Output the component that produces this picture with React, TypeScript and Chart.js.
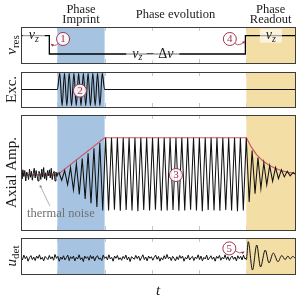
import React, { useEffect, useRef } from "react";
import { Chart, registerables } from "chart.js";
Chart.register(...registerables);

// ---------- data ----------
const T_MIN = -0.77;
const T_MAX = 5.03;
const IMPRINT = [0, 1];
const READOUT = [4, 5.03];
const TICKS = [0, 1, 2, 3, 4];
const PHASE_TITLES = ["Phase Imprint", "Phase evolution", "Phase Readout"];

// panel 1: resonator frequency (step)
const NU_T = [-0.77, -0.17, -0.17, 3.98, 3.98, 5.03];
const NU_Y = [0.76, 0.76, 0.25, 0.25, 0.76, 0.76];

// panel 2: excitation
const EXC_T0 = 0;
const EXC_DT = 0.05;
const EXC_Y = [0, 1, -1, 1, -1, 1, -1, 1, -1, 1, -1, 1, -1, 1, -1, 1, -1, 1, -1, 1, 0];

// panel 3: axial amplitude
const AXIAL_NOISE_T0 = -0.77;
const AXIAL_NOISE_DT = 0.02;
const AXIAL_NOISE = [
  0.06, -0.10, 0.14, -0.04, 0.12, -0.16, 0.08, 0.02, -0.12, 0.16,
  -0.06, 0.10, -0.14, 0.04, 0.18, -0.08, 0.12, -0.02, -0.16, 0.10,
  0.04, -0.12, 0.16, -0.06, 0.20, -0.10, 0.06, -0.14, 0.12, -0.02,
  0.14, -0.08, 0.18, -0.12, 0.04, 0.10, -0.16, 0.08, -0.04, 0.06,
];
const AXIAL_T0 = 0.03;
const AXIAL_DT = 0.062;
const AXIAL = [
  0.08, -0.14, 0.12, -0.26, 0.20, -0.40, 0.30, -0.52, 0.44, -0.64, 0.58, -0.76, 0.72, -0.86, 0.86, -0.95,
  1.0,
  -0.95, 1.0, -0.93, 1.0, -0.96, 1.0, -0.94, 1.0, -0.95, 1.0, -0.97, 1.0, -0.94, 1.0, -0.95, 1.0,
  -0.93, 1.0, -0.96, 1.0, -0.95, 1.0, -0.94, 1.0, -0.96, 1.0, -0.95, 1.0, -0.93, 1.0, -0.95, 1.0,
  -0.97, 1.0, -0.94, 1.0, -0.95, 1.0, -0.96, 1.0, -0.94, 1.0, -0.95, 1.0, -0.97, 1.0, -0.95, 1.0,
  -0.72, 0.66, -0.50, 0.47, -0.36, 0.33, -0.26, 0.25, -0.17, 0.20, -0.10, 0.14, -0.05, 0.10, -0.02, 0.07, 0.0,
];
const ENV_T = [-0.77, 0, 1, 4, 4.11, 4.22, 4.33, 4.47, 4.61, 4.75, 4.89, 5.03];
const ENV_Y = [0, 0, 1, 1, 0.74, 0.54, 0.40, 0.27, 0.18, 0.115, 0.07, 0.045];

// panel 4: detector signal
const UDET_T0 = -0.77;
const UDET_DT = 0.03;
const UDET_NOISE = [
  0.05, -0.12, 0.18, -0.04, 0.10, -0.20, 0.02, 0.15, -0.10, 0.06,
  -0.16, 0.12, -0.02, 0.20, -0.08, 0.04, -0.18, 0.10, 0.00, -0.10,
  0.16, -0.06, 0.08, -0.14, 0.22, -0.02, 0.10, -0.20, 0.06, -0.08,
  0.14, -0.12, 0.02, 0.18, -0.16, 0.08, -0.04, 0.12, -0.18, 0.04,
  -0.06, 0.20, -0.10, 0.02, -0.22, 0.12, -0.02, 0.08, -0.14, 0.16,
  -0.04, 0.10, -0.18, 0.06, 0.14, -0.08, 0.00, -0.16, 0.18, -0.02,
  0.08, -0.12, 0.20, -0.06, 0.04, -0.20, 0.12, -0.02, 0.16, -0.10,
  0.02, -0.14, 0.10, -0.04, 0.18, -0.12, 0.06, -0.22, 0.08, 0.00,
  -0.08, 0.16, -0.04, 0.12, -0.16, 0.02, 0.20, -0.10, 0.06, -0.18,
  0.12, -0.02, 0.08, -0.14, 0.04, 0.18, -0.08, 0.10, -0.20, 0.02,
  -0.12, 0.14, -0.06, 0.22, -0.04, 0.06, -0.16, 0.10, -0.02, -0.18,
  0.08, -0.10, 0.16, -0.02, 0.12, -0.20, 0.04, -0.06, 0.18, -0.12,
  0.02, 0.10, -0.16, 0.06, -0.04, 0.20, -0.10, 0.12, -0.18, 0.04,
  -0.06, 0.18, -0.12, 0.00, 0.14, -0.08, 0.06, -0.20, 0.10, -0.02,
  0.16, -0.14, 0.04, -0.06, 0.20, -0.10, 0.08, -0.16, 0.02, 0.12,
  -0.08, 0.06, -0.18, 0.14, -0.04, 0.10, -0.12, 0.18, -0.06, 0.00,
];
const RING_T = [3.98, 4.0, 4.04, 4.13, 4.22, 4.30, 4.40, 4.48, 4.57, 4.67, 4.75, 4.82, 4.88, 4.93, 4.98, 5.03];
const RING_Y = [0.0, -0.1, 1.02, -0.75, 0.81, -0.56, 0.5, -0.31, 0.31, -0.23, 0.16, -0.1, 0.12, -0.06, 0.1, 0.0];

// annotation anchors (data coordinates)
const MARK_1 = [0.12, 0.667];
const MARK_4 = [3.65, 0.667];
const MARK_2 = [0.477, -0.07];
const MARK_3 = [2.51, 0];
const MARK_5 = [3.64, 0.6];
const NU_LABEL_POS = [[-0.5, 0.76], [2.02, 0.25], [4.52, 0.76]];
const NOISE_LABEL = [0.074, -1.02];
const NOISE_ARROW = [[-0.159, -0.83], [-0.37, -0.27]];

// ---------- styles ----------
const SERIF = '"Liberation Serif", "DejaVu Serif", serif';
const f = (size: number, italic = false) => `${italic ? "italic " : ""}${size}px ${SERIF}`;
const INK = "#1a1a1a";
const BLUE = "#a6c4e2";
const YELLOW = "#f3dfa5";
const MAROON = "#a3324a";
const ENV_RED = "#cf5468";
const TICK = "#c8c8c8";
const FRAME = "#3c3c3c";

// ---------- helpers ----------
const pts = (ts: number[], ys: number[]) => ys.map((y, i) => ({ x: ts[i], y }));
const sampled = (t0: number, dt: number, ys: number[]) => ys.map((y, i) => ({ x: t0 + i * dt, y }));

type Seg = { t: string; font: string; dy?: number; gap?: number };
function richWidth(ctx: CanvasRenderingContext2D, segs: Seg[]) {
  let w = 0;
  for (const s of segs) {
    ctx.font = s.font;
    w += (s.gap ?? 0) + ctx.measureText(s.t).width;
  }
  return w;
}
function drawRich(ctx: CanvasRenderingContext2D, segs: Seg[], x: number, y: number) {
  ctx.textAlign = "left";
  ctx.textBaseline = "alphabetic";
  const w = richWidth(ctx, segs);
  let cx = x - w / 2;
  for (const s of segs) {
    ctx.font = s.font;
    cx += s.gap ?? 0;
    ctx.fillText(s.t, cx, y + (s.dy ?? 0));
    cx += ctx.measureText(s.t).width;
  }
  return w;
}
function yLabel(chart: any, segs: Seg[]) {
  const { ctx, chartArea: a } = chart;
  ctx.save();
  ctx.translate(16, (a.top + a.bottom) / 2);
  ctx.rotate(-Math.PI / 2);
  ctx.fillStyle = INK;
  drawRich(ctx, segs, 0, 0);
  ctx.restore();
}
function px(chart: any, p: number[]) {
  return [chart.scales.x.getPixelForValue(p[0]), chart.scales.y.getPixelForValue(p[1])];
}
function circled(ctx: CanvasRenderingContext2D, x: number, y: number, n: string) {
  ctx.save();
  ctx.beginPath();
  ctx.arc(x, y, 6.5, 0, Math.PI * 2);
  ctx.fillStyle = "rgba(255,255,255,0.9)";
  ctx.fill();
  ctx.lineWidth = 1;
  ctx.strokeStyle = MAROON;
  ctx.stroke();
  ctx.fillStyle = MAROON;
  ctx.font = f(11);
  ctx.textAlign = "center";
  ctx.textBaseline = "middle";
  ctx.fillText(n, x, y + 0.5);
  ctx.restore();
}
function arrow(ctx: CanvasRenderingContext2D, x0: number, y0: number, cx: number, cy: number, x1: number, y1: number, color: string, lw = 0.8, head = 3) {
  ctx.save();
  ctx.strokeStyle = color;
  ctx.fillStyle = color;
  ctx.lineWidth = lw;
  ctx.beginPath();
  ctx.moveTo(x0, y0);
  ctx.quadraticCurveTo(cx, cy, x1, y1);
  ctx.stroke();
  const ang = Math.atan2(y1 - cy, x1 - cx);
  ctx.beginPath();
  ctx.moveTo(x1, y1);
  ctx.lineTo(x1 - head * Math.cos(ang - 0.5), y1 - head * Math.sin(ang - 0.5));
  ctx.lineTo(x1 - head * Math.cos(ang + 0.5), y1 - head * Math.sin(ang + 0.5));
  ctx.closePath();
  ctx.fill();
  ctx.restore();
}
const NU_Z: Seg[] = [
  { t: "ν", font: f(14, true) },
  { t: "z", font: f(10, true), dy: 2.5 },
];
const NU_DIFF: Seg[] = [
  ...NU_Z,
  { t: "−", font: f(14), gap: 4 },
  { t: "Δ", font: f(14), gap: 4 },
  { t: "ν", font: f(14, true) },
];
function boxedLabel(chart: any, segs: Seg[], p: number[]) {
  const { ctx } = chart;
  const [x, y] = px(chart, p);
  const w = richWidth(ctx, segs);
  ctx.save();
  ctx.fillStyle = "rgba(255,255,255,0.62)";
  ctx.fillRect(x - w / 2 - 6, y - 7, w + 12, 14);
  ctx.fillStyle = INK;
  drawRich(ctx, segs, x, y + 3.5);
  ctx.restore();
}

function panelPlugin(id: string, extra: (chart: any) => void) {
  return {
    id,
    beforeDatasetsDraw(chart: any) {
      const { ctx, chartArea: a, scales } = chart;
      const xs = scales.x;
      ctx.save();
      ctx.strokeStyle = TICK;
      ctx.lineWidth = 1;
      for (const t of TICKS) {
        const p = Math.round(xs.getPixelForValue(t)) + 0.5;
        ctx.beginPath();
        ctx.moveTo(p, a.top);
        ctx.lineTo(p, a.top + 4);
        ctx.moveTo(p, a.bottom);
        ctx.lineTo(p, a.bottom - 4);
        ctx.stroke();
      }
      const b0 = xs.getPixelForValue(IMPRINT[0]);
      const b1 = xs.getPixelForValue(IMPRINT[1]);
      ctx.fillStyle = BLUE;
      ctx.fillRect(b0, a.top, b1 - b0, a.bottom - a.top);
      const r0 = xs.getPixelForValue(READOUT[0]);
      const r1 = Math.min(xs.getPixelForValue(READOUT[1]), a.right);
      ctx.fillStyle = YELLOW;
      ctx.fillRect(r0, a.top, r1 - r0, a.bottom - a.top);
      ctx.restore();
    },
    afterDatasetsDraw(chart: any) {
      const { ctx, chartArea: a } = chart;
      extra(chart);
      ctx.save();
      ctx.strokeStyle = FRAME;
      ctx.lineWidth = 1;
      ctx.strokeRect(a.left + 0.5, a.top + 0.5, a.right - a.left, a.bottom - a.top);
      ctx.restore();
    },
  };
}

function makeConfig(datasets: any[], yMin: number, yMax: number, top: number, bottom: number, plugin: any) {
  return {
    type: "line",
    data: { datasets },
    options: {
      responsive: false,
      animation: false,
      devicePixelRatio: 1,
      events: [],
      layout: { padding: { left: 21, right: 4, top, bottom } },
      plugins: { legend: { display: false }, tooltip: { enabled: false } },
      scales: {
        x: { type: "linear", min: T_MIN, max: T_MAX, display: false },
        y: { type: "linear", min: yMin, max: yMax, display: false },
      },
      elements: { point: { radius: 0 }, line: { tension: 0 } },
    },
    plugins: [plugin],
  };
}

const line = (data: any[], color: string, width: number, extra: any = {}) => ({
  data,
  borderColor: color,
  borderWidth: width,
  pointRadius: 0,
  fill: false,
  ...extra,
});

// ---------- panel configs ----------
function panel1() {
  const plugin = panelPlugin("p1", (chart) => {
    const { ctx, scales } = chart;
    const xs = scales.x;
    ctx.save();
    ctx.fillStyle = INK;
    ctx.font = f(12.5);
    ctx.textAlign = "center";
    ctx.textBaseline = "alphabetic";
    const [imp, evo, rd] = PHASE_TITLES;
    const cImp = xs.getPixelForValue((IMPRINT[0] + IMPRINT[1]) / 2);
    const cEvo = xs.getPixelForValue((IMPRINT[1] + READOUT[0]) / 2);
    const cRd = xs.getPixelForValue((READOUT[0] + READOUT[1]) / 2);
    const [w1, w2] = imp.split(" ");
    ctx.fillText(w1, cImp, 12.5);
    ctx.fillText(w2, cImp, 23);
    ctx.fillText(evo, cEvo, 18);
    const [r1, r2] = rd.split(" ");
    ctx.fillText(r1, cRd, 12.5);
    ctx.fillText(r2, cRd, 23);
    ctx.restore();
    yLabel(chart, [
      { t: "ν", font: f(15, true) },
      { t: "res", font: f(11), dy: 3 },
    ]);
    boxedLabel(chart, NU_Z, NU_LABEL_POS[0]);
    boxedLabel(chart, NU_DIFF, NU_LABEL_POS[1]);
    boxedLabel(chart, NU_Z, NU_LABEL_POS[2]);
    const [c1x, c1y] = px(chart, MARK_1);
    arrow(ctx, c1x - 5, c1y + 4.5, c1x - 8, c1y + 8, c1x - 12, c1y + 5, MAROON);
    circled(ctx, c1x, c1y, "1");
    const [c4x, c4y] = px(chart, MARK_4);
    arrow(ctx, c4x + 5, c4y + 4.5, c4x + 10, c4y + 8, c4x + 15, c4y + 2, MAROON);
    circled(ctx, c4x, c4y, "4");
  });
  return makeConfig([line(pts(NU_T, NU_Y), "#000", 1.3)], 0, 1, 27, 3, plugin);
}

function panel2() {
  const plugin = panelPlugin("p2", (chart) => {
    yLabel(chart, [{ t: "Exc.", font: f(15) }]);
    const [x, y] = px(chart, MARK_2);
    circled(chart.ctx, x, y, "2");
  });
  const data = [{ x: T_MIN, y: 0 }, ...sampled(EXC_T0, EXC_DT, EXC_Y), { x: T_MAX, y: 0 }];
  return makeConfig(
    [line(data, "#111", 1.1, { cubicInterpolationMode: "monotone" })],
    -1.08, 1.08, 6, 3, plugin
  );
}

function panel3() {
  const plugin = panelPlugin("p3", (chart) => {
    const { ctx } = chart;
    yLabel(chart, [{ t: "Axial Amp.", font: f(15) }]);
    const [tx, ty] = px(chart, NOISE_LABEL);
    ctx.save();
    ctx.fillStyle = "#707070";
    ctx.font = f(12.5);
    ctx.textAlign = "center";
    ctx.textBaseline = "alphabetic";
    ctx.fillText("thermal noise", tx, ty + 3.5);
    ctx.restore();
    const [a0x, a0y] = px(chart, NOISE_ARROW[0]);
    const [a1x, a1y] = px(chart, NOISE_ARROW[1]);
    arrow(ctx, a0x, a0y, (a0x + a1x) / 2, (a0y + a1y) / 2, a1x, a1y, "#909090", 0.7, 3);
    const [x, y] = px(chart, MARK_3);
    circled(ctx, x, y, "3");
  });
  return makeConfig(
    [
      line(sampled(AXIAL_NOISE_T0, AXIAL_NOISE_DT, AXIAL_NOISE), "#111", 1),
      line(sampled(AXIAL_T0, AXIAL_DT, AXIAL), "#111", 1.05),
      line(pts(ENV_T, ENV_Y), ENV_RED, 1.2),
    ],
    -1.475, 1.61, 5, 4, plugin
  );
}

function panel4() {
  const plugin = panelPlugin("p4", (chart) => {
    const { ctx, chartArea: a } = chart;
    yLabel(chart, [
      { t: "u", font: f(15, true) },
      { t: "det", font: f(11), dy: 3 },
    ]);
    ctx.save();
    ctx.fillStyle = INK;
    ctx.font = f(15, true);
    ctx.textAlign = "center";
    ctx.textBaseline = "alphabetic";
    ctx.fillText("t", (a.left + a.right) / 2, a.bottom + 21);
    ctx.restore();
    const [cx, cy] = px(chart, MARK_5);
    arrow(ctx, cx + 6, cy + 2.5, cx + 10, cy + 6, cx + 15, cy + 3.5, MAROON);
    circled(ctx, cx, cy, "5");
  });
  return makeConfig(
    [
      line(sampled(UDET_T0, UDET_DT, UDET_NOISE), "#111", 1),
      line(pts(RING_T, RING_Y), "#111", 1, { cubicInterpolationMode: "monotone" }),
    ],
    -1.0, 1.25, 4, 28, plugin
  );
}

function Panel({ top, height, build }: { top: number; height: number; build: () => any }) {
  const ref = useRef<HTMLCanvasElement>(null);
  useEffect(() => {
    const chart = new Chart(ref.current as HTMLCanvasElement, build());
    return () => chart.destroy();
  }, []);
  return (
    <canvas
      ref={ref}
      width={299}
      height={height}
      style={{ position: "absolute", left: 0, top, width: 299, height, display: "block" }}
    />
  );
}

export default function App() {
  return (
    <div style={{ position: "fixed", left: 0, top: 0, width: 299, height: 302, background: "#fff", overflow: "hidden" }}>
      <Panel top={0} height={66} build={panel1} />
      <Panel top={66} height={44} build={panel2} />
      <Panel top={110} height={124} build={panel3} />
      <Panel top={234} height={68} build={panel4} />
    </div>
  );
}
